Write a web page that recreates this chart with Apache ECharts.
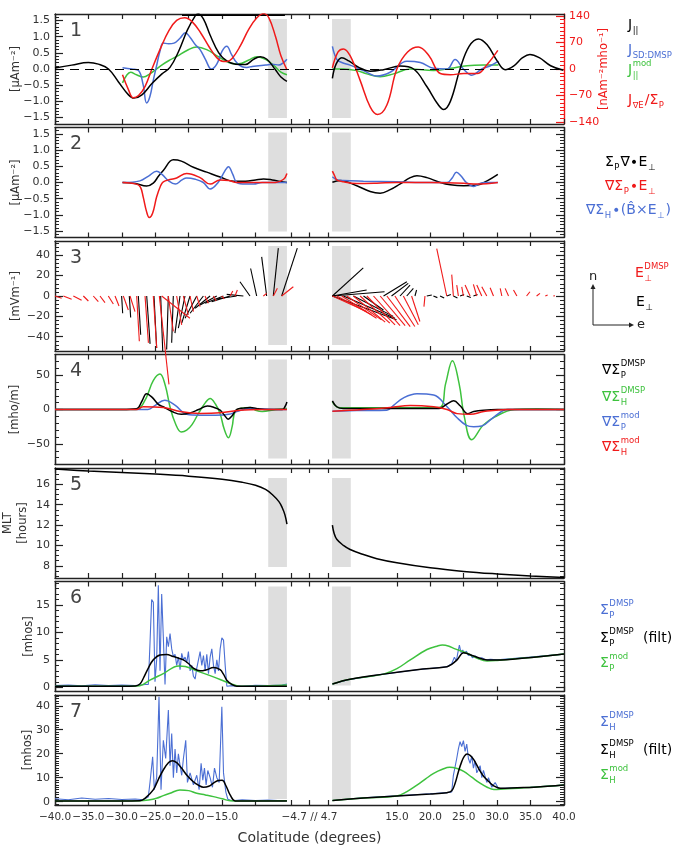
<!DOCTYPE html>
<html>
<head>
<meta charset="utf-8">
<script src="https://cdn.jsdelivr.net/npm/echarts@6.0.0/dist/echarts.min.js"></script>
<style>
  html, body { margin: 0; background: #fff; }
  #chart { width: 681px; height: 852px; }
</style>
</head>
<body>
<div id="chart"></div>
<script>
// ---- broken colatitude axis: -40..-4.7 // 4.7..40
const SHIFT = 3.85;
const U = x => (x < 0 ? x : x - SHIFT);
const MID = (U(-4.7) + U(4.7)) / 2;
const EAST_SCALE = 0.153;   // deg of colatitude drawn per mV/m of east component

const xTickVals = [-40, -35, -30, -25, -20, -15, -10, -4.7, 4.7, 15, 20, 25, 30, 35, 40];
const xLabelVals = [-40, -35, -30, -25, -20, -15, 15, 20, 25, 30, 35, 40];
const grayBars = [[-8.1, -5.3], [5.3, 8.1]];

// ---- panel 1: currents (red on right axis, nA m^-2 mho^-1)
const p1BlackLX = [-40, -37.5, -35, -33.5, -32, -30.5, -29, -28.2, -27, -25.5, -24, -22.8, -21.5, -20.2, -19, -18.6, -17.8, -16.8, -15.5, -14.3, -13, -11.5, -10.3, -9.3, -8.3, -7.1, -6.2, -5.3];
const p1BlackLY = [0.03, 0.12, 0.2, 0.15, 0.0, -0.4, -0.8, -0.9, -0.8, -0.45, -0.15, 0.05, 0.55, 1.2, 1.65, 1.7, 1.55, 1.05, 0.5, 0.25, 0.15, 0.14, 0.3, 0.38, 0.3, 0.0, -0.25, -0.38];
const p1BlackRX = [5.35, 5.9, 6.75, 7.8, 9.3, 11, 13, 15.5, 17.5, 19.5, 21, 22, 23, 24.45, 25.8, 27.2, 28.5, 30, 31.2, 32.5, 33.8, 34.9, 36.3, 38, 39.9];
const p1BlackRY = [-0.29, 0.15, 0.35, 0.25, 0.05, -0.07, -0.02, 0.09, 0.0, -0.55, -1.05, -1.25, -1.0, 0.0, 0.7, 0.93, 0.75, 0.25, -0.02, 0.1, 0.35, 0.45, 0.35, 0.1, -0.04];
const p1BarX = [-21, -5.6];
const p1BarY = [1.66, 1.66];
const p1BlueLX = [-29.9, -28.5, -27.5, -26.8, -26.3, -25.8, -25.3, -24.8, -24.3, -23.8, -23, -22.2, -21.3, -20.5, -19.8, -19, -18.3, -17.5, -16.6, -15.8, -15, -14.3, -13.6, -12.8, -12, -11.3, -10.5, -9.5, -8.5, -7.5, -6.5, -5.8, -5.3];
const p1BlueLY = [0.04, 0.0, -0.05, -0.5, -1.05, -0.85, -0.35, 0.1, 0.55, 0.8, 0.78, 0.8, 0.95, 1.12, 0.98, 0.75, 0.6, 0.3, 0.0, 0.15, 0.55, 0.7, 0.45, 0.19, 0.07, 0.05, 0.08, 0.1, 0.12, 0.15, 0.12, 0.2, 0.3];
const p1BlueRX = [5.35, 6, 6.75, 8, 10, 12, 14, 16.5, 18.5, 20.5, 22.5, 23.7, 24.95, 26.2, 27.7, 29, 30.2];
const p1BlueRY = [0.7, 0.3, 0.2, 0.12, -0.05, -0.22, -0.1, 0.24, 0.2, 0.02, 0.0, 0.29, 0.0, -0.19, 0.0, 0.1, 0.24];
const p1GreenLX = [-29.9, -29.3, -28.7, -27.8, -26.8, -25.8, -24.2, -22.8, -21.7, -20.2, -18.8, -17.3, -15.7, -14.5, -13.7, -12.5, -11, -9.8, -8.5, -7.2, -6.2, -5.3];
const p1GreenLY = [-0.43, -0.2, -0.1, -0.18, -0.25, -0.15, 0.1, 0.28, 0.4, 0.58, 0.68, 0.6, 0.4, 0.25, 0.18, 0.16, 0.28, 0.38, 0.3, 0.1, -0.1, -0.18];
const p1GreenRX = [5.35, 7, 9, 10.5, 12.5, 14.5, 17, 20.5, 23, 25.5, 28, 30.2];
const p1GreenRY = [0.0, 0.0, -0.05, -0.15, -0.24, -0.15, 0.0, -0.05, 0.02, 0.1, 0.12, 0.12];
const p1RedLX = [-29.9, -29, -28.3, -27.5, -26.5, -25.5, -24.2, -23, -21.8, -20.6, -19.5, -18.2, -17, -15.8, -14.8, -14.3, -13.5, -12.3, -11, -9.8, -8.8, -8, -7, -6.2, -5.3];
const p1RedLY = [-15, -55, -76, -70, -45, 0, 55, 100, 128, 135, 125, 95, 60, 30, 20, 20, 28, 60, 105, 135, 146, 135, 85, 35, -2];
const p1RedRX = [5.35, 6.2, 7.0, 8, 9.5, 11, 12.1, 13.5, 15, 16.6, 18.2, 19.8, 21.5, 23, 25, 27, 28.5, 30.1];
const p1RedRY = [3, 45, 53, 35, -30, -100, -120, -95, 0, 45, 58, 35, -12, -15, -12, -12, 12, 49];

// ---- panel 2: current terms
const p2BlackLX = [-29.9, -28, -26.3, -25.3, -24.5, -23.8, -22.3, -21.1, -19.3, -17.3, -15.3, -13.3, -11.5, -10, -8.8, -7.5, -6.3, -5.3];
const p2BlackLY = [0, -0.03, -0.11, -0.02, 0.2, 0.37, 0.7, 0.66, 0.47, 0.32, 0.17, 0.04, 0.04, 0.08, 0.11, 0.08, 0.03, 0.0];
const p2BlackRX = [5.35, 6.5, 9, 11, 12.5, 14, 15.5, 17, 18, 19.5, 21.5, 23, 25, 27, 28.5, 30.1];
const p2BlackRY = [0.01, 0.06, -0.1, -0.28, -0.33, -0.22, -0.04, 0.15, 0.21, 0.15, 0.0, -0.07, -0.1, -0.08, 0.05, 0.25];
const p2RedLX = [-29.9, -27.8, -27.2, -26.8, -26.3, -25.9, -25.4, -24.8, -24.2, -23.8, -22.8, -21.8, -20.3, -18.3, -16.8, -15.3, -14, -12.8, -10, -7, -5.8, -5.3];
const p2RedLY = [0, -0.05, -0.15, -0.45, -0.9, -1.08, -0.95, -0.45, -0.1, 0.02, 0.09, 0.14, 0.28, 0.15, -0.05, 0.08, 0.06, 0.0, 0.0, 0.0, 0.1, 0.28];
const p2RedRX = [5.35, 5.7, 6.0, 7, 9, 12, 15, 20, 25, 27, 30.1];
const p2RedRY = [0.35, 0.2, 0.08, 0.02, -0.03, -0.02, 0, 0, -0.02, -0.05, 0];
const p2BlueLX = [-29.9, -27.3, -26, -24.8, -24, -23, -22, -21, -20.3, -19, -17.8, -16.8, -15.6, -14.6, -14.05, -13.4, -12.8, -11.5, -10.3, -9, -7, -5.3];
const p2BlueLY = [0, 0.05, 0.2, 0.35, 0.25, 0.05, -0.05, 0.08, 0.14, 0.1, 0.0, -0.2, 0.0, 0.35, 0.49, 0.25, 0.0, -0.05, -0.05, 0.0, 0.0, 0.0];
const p2BlueRX = [5.35, 6, 7, 10, 15, 20, 22.5, 23.3, 23.9, 24.6, 25.4, 26.5, 27.5, 28.5, 30.1];
const p2BlueRY = [0.18, 0.09, 0.06, 0.04, 0.02, 0, 0, 0.15, 0.32, 0.2, 0.0, -0.12, -0.02, 0.0, 0.0];

// ---- panel 3: electric field sticks (base colatitude, east mV/m, north mV/m)
const p3BlackX = [-30.03, -28.88, -27.53, -26.28, -25.19, -24.19, -23.05, -22.3, -21.3, -20.55, -19.8, -18.8, -17.8, -16.8, -15.8, -14.8, -13.82, -12.82, -11.82, -10.83, -9.83, -8.33, -7.34, -6.09,
  5.35, 5.35, 5.35, 5.35, 7.0, 8.5, 10.0, 13.0, 14.2, 15.47, 16.47, 17.7, 19.47, 20.46, 21.46, 22.46, 23.45, 24.45, 25.45, 26.45];
const p3BlackE = [1.0, 1.3, 2.3, 3.3, 2.6, 2.0, -1.6, -1.6, -4.9, -6.5, -8.1, -11.4, -13, -14.6, -16.3, -17.9, -17.9, -19.5, -16.3, -9.8, -5.9, -4.9, 4.9, 15.3,
  30.2, 33.5, 51, 62.7, 50.4, 39, 19.5, 22.8, 16.3, 9.8, 6.5, 1.6, 4.9, 3.9, 4, 4, 4, 4, 4, 4];
const p3BlackN = [-16.9, -21.1, -38, -47, -51, -54, -52.6, -46, -36.4, -31.5, -26.7, -21.8, -16.9, -12, -8.8, -7.2, -5.5, -2.9, 1.6, 14, 27, 38.4, 47, 47,
  27.6, 5.9, 4.2, -23.4, -21.8, -20, -13.7, 14, 12.4, 10.7, 7.5, 5.9, 1, -1.6, -2, 1.5, -2, 1.5, -1.5, 1.5];
const p3RedX = [-40.0, -38.75, -37.26, -35.76, -34.27, -33.27, -32.02, -31.02, -29.78, -28.78, -27.78, -26.53, -25.29, -24.39, -24.04, -23.05, -21.8, -20.8, -19.8, -18.8, -17.56, -16.3, -15.06, -13.8, -13.07, -8.83, -7.33, -6.09,
  5.35, 6.0, 6.75, 7.5, 8.5, 9.5, 10.5, 11.5, 12.5, 13.5, 14.7, 15.97, 17.2, 19.2, 22.46, 23.45, 24.2, 24.95, 25.95, 26.95, 27.7, 28.45, 29.45, 30.7, 31.7, 32.95, 34.4, 35.9, 37.2, 38.4];
const p3RedE = [6.5, 8.1, 8.1, 4.9, 4.9, 4.9, 4.9, 3.9, 4.9, 4.9, 2.6, 3.3, 3.3, 9.4, 27.6, 4.9, 4.9, 4.9, 3.3, 3.3, 3.3, 2.6, 2.3, 2.6, 2.3, 3.3, 3.9, 11.4,
  33.5, 34, 34, 34, 31, 29, 27.6, 26, 24.4, 22.8, 19.5, 14.6, 8.1, -1, -9.8, -1.6, -1.6, -1.6, -4.9, -3.3, -4.9, -4.9, -3.3, -1.6, -3.3, -3.3, 3.3, 3.3, 2.3, 1.6];
const p3RedN = [-2.3, -3.3, -4.2, -4.9, -5.5, -6.5, -7.8, -9.8, -13.7, -15.3, -44.5, -46, -51, -86.8, -21.8, -34.8, -28.3, -18.5, -15.3, -10.4, -7.2, -4.9, -2.9, 4.9, 5.9, 2.6, 7.5, 9.1,
  -15.3, -18.5, -21.8, -23.4, -25.7, -26.7, -28.3, -29, -29, -30, -30, -28.3, -25, -10.4, 46.5, 21, 10.7, 9, 10.7, 11.4, 10.7, 9, 8.1, 7.5, 7.5, 5.9, 4.2, 2.6, 1, 0.3];

// ---- panel 4: conductance gradients
const p4BlackLX = [-40, -35, -30, -27.8, -27, -26.3, -25.5, -24.5, -23.8, -22.5, -21.1, -19.8, -18.5, -17.2, -16.2, -15.3, -14.6, -14.1, -13.5, -12.8, -11.8, -10.8, -9.5, -8, -6, -5.6, -5.3];
const p4BlackLY = [0, 0, 0, 1, 12, 23, 18, 7, 4, -3, -7, -5, 0, 5, 3, -1, -9, -14, -9, 0, 2, 3, 1, 0, 0, 4, 11];
const p4BlackRX = [5.35, 6.0, 7, 10, 15, 20, 21.3, 22.5, 23.5, 24.5, 25.6, 26.5, 28, 30, 35, 40];
const p4BlackRY = [12.6, 4, 1.5, 1.5, 1.5, 1.5, 1.5, 8, 12.6, 5, -6, -3, -1, 0, 0, 0];
const p4GreenLX = [-40, -30, -28, -27.3, -26.3, -25.3, -24.3, -23.5, -22.8, -22, -21.1, -20.3, -19.5, -18.5, -17.5, -16.8, -16, -15.3, -14.7, -14.05, -13.5, -13.05, -12, -10.8, -10, -9, -7, -5.3];
const p4GreenLY = [0, 0, 0, 2, 18, 42, 51.5, 35, 4, -20, -32.6, -30, -22, -5, 10, 16, 8, -6, -28, -41, -25, -3, 2, 3, -1, -3, 0, 1.5];
const p4GreenRX = [5.35, 6.2, 7, 10, 15, 21.3, 22.3, 23.3, 24.3, 25.1, 26.2, 27.9, 29.6, 32.6, 36, 40];
const p4GreenRY = [11, 3, 2.5, 2.5, 2.5, 3, 38, 71, 38, -11, -44, -23, -11, 0, 1, 0];
const p4BlueLX = [-40, -30, -26.1, -25, -23.6, -22, -20.3, -18.3, -16, -14, -12.8, -11, -8, -5.3];
const p4BlueLY = [0, 0, 0, 6, 13.6, 6, -7, -8.3, -8.3, -7, -3, 1.5, 0.5, 0];
const p4BlueRX = [5.35, 9, 13.5, 14.5, 16, 18, 20.5, 22.5, 24, 25.4, 26.5, 27.7, 29.5, 31.6, 36, 40];
const p4BlueRY = [-2.4, -1.5, -1, 6, 17, 23, 21, 4, -12, -23, -25, -24, -11, 0, 0, 0];
const p4RedLX = [-40, -30, -27.8, -26.8, -23.8, -21.3, -18.3, -15.3, -12.3, -9, -5.3];
const p4RedLY = [0, 0, 0, 4, 3, -3, -5.8, -4.9, -1, 0, 0];
const p4RedRX = [5.35, 10, 14, 17, 20.5, 22.5, 24, 26, 28, 31.6, 36, 40];
const p4RedRY = [-2.4, 0, 3, 6, 4, 0, -6, -7, -3, 0, 0, 0];

// ---- panel 5: MLT
const p5LX = [-40, -35, -30, -25, -20, -15, -12, -10, -8.5, -7.5, -6.5, -6, -5.6, -5.3];
const p5LY = [17.5, 17.3, 17.15, 17.0, 16.8, 16.5, 16.2, 15.9, 15.5, 15.0, 14.3, 13.7, 13.0, 12.1];
const p5RX = [5.35, 5.6, 6, 7, 8, 10, 12, 15, 20, 25, 30, 35, 40];
const p5RY = [12, 11.2, 10.6, 10.0, 9.6, 9.1, 8.7, 8.3, 7.8, 7.45, 7.2, 7.0, 6.85];

// ---- panel 6: Pedersen conductance
const p6BlueLX = [-40, -38, -36, -34, -32, -30, -28, -26.5,
  -26.04, -25.79, -25.54, -25.29, -25.04, -24.79, -24.54, -24.29, -24.04, -23.79, -23.54, -23.29, -23.04, -22.79, -22.54, -22.29,
  -22.04, -21.79, -21.54, -21.29, -21.04, -20.79, -20.54, -20.29, -20.04, -19.79, -19.54, -19.29, -19.04, -18.79, -18.54, -18.29,
  -18.04, -17.79, -17.54, -17.29, -17.04, -16.79, -16.54, -16.29, -16.04, -15.79, -15.54, -15.29, -15.04, -14.79, -14.54, -14.29,
  -13.5, -12, -10, -8, -6, -5.3];
const p6BlueLY = [0.3, 0.4, 0.25, 0.45, 0.3, 0.4, 0.3, 0.5,
  0.5, 8, 16, 15.5, 1, 5, 18.6, 3, 17, 9, 0.5, 9.2, 7.4, 9.8, 7, 5.6,
  6, 4, 5.5, 3.2, 6.2, 5, 5.5, 4.5, 6.5, 3, 4, 2, 1.5, 3.5, 5, 6.5,
  4, 5.8, 3, 6, 2.5, 5.5, 7, 4, 2.5, 5, 3, 7, 9, 8.6, 4, 0.2,
  0.3, 0.2, 0.35, 0.3, 0.4, 0.6];
const p6BlueRX = [5.35, 8, 13, 18, 22.5, 23.2, 23.6, 23.9, 24.1, 24.35, 24.6, 24.85, 25.1, 25.4, 25.7, 26, 26.3, 26.7, 27.2, 27.7, 28.3, 29, 30, 35, 40];
const p6BlueRY = [0.6, 1.45, 2.4, 3.2, 3.75, 4.3, 5.5, 4.8, 6.2, 7.7, 6.3, 6.8, 6.2, 6.6, 5.8, 6.0, 5.4, 5.7, 5.2, 5.4, 5.0, 5.1, 5.0, 5.5, 6.05];
const p6BlackLX = [-40, -30, -28, -27.3, -26.8, -26, -25.3, -24.3, -23.3, -22.3, -21.5, -20.8, -20, -19.3, -18.3, -17.3, -16.3, -15.3, -14.8, -14.3, -13.5, -12.8, -5.3];
const p6BlackLY = [0.2, 0.2, 0.25, 0.6, 1.6, 3.6, 5.0, 5.9, 6.0, 5.6, 5.3, 5.0, 4.3, 3.5, 3.0, 3.2, 3.6, 3.2, 2.4, 1.3, 0.5, 0.2, 0.2];
const p6BlackRX = [5.35, 8, 13, 18, 22.5, 23.2, 24, 25, 26.5, 28.5, 30.5, 33, 35.5, 40];
const p6BlackRY = [0.6, 1.45, 2.4, 3.2, 3.75, 4.2, 5.0, 6.3, 5.7, 5.0, 5.0, 5.2, 5.5, 6.05];
const p6GreenLX = [-40, -30, -27.3, -25.8, -23.8, -21.5, -20.5, -18.8, -16.3, -13.8, -12.3, -10, -5.3];
const p6GreenLY = [0.2, 0.2, 0.3, 1.3, 2.5, 3.9, 3.8, 3.0, 1.9, 0.7, 0.2, 0.2, 0.4];
const p6GreenRX = [5.35, 8, 13, 15, 17, 19.5, 21, 21.8, 22.8, 23.5, 25.5, 27, 28.5, 30, 35.5, 40];
const p6GreenRY = [0.6, 1.45, 2.4, 3.4, 5.0, 6.9, 7.5, 7.7, 7.5, 7.1, 6.2, 5.3, 4.8, 4.9, 5.5, 6.05];

// ---- panel 7: Hall conductance
const p7BlueLX = [-40, -38, -36, -34, -32, -30, -28, -26.8, -26.04, -25.79, -25.39, -25.14, -24.79, -24.44, -24.14, -23.79, -23.44, -23.04, -22.79, -22.54, -22.29, -22.04, -21.79, -21.54, -21.29, -21.04, -20.79, -20.44, -20.19, -19.79, -19.29, -18.79, -18.44, -18.14, -17.89, -17.64, -17.39, -17.14, -16.79, -16.44, -16.14, -15.79, -15.44, -15.04, -14.79, -14.44, -14.14, -13.5, -12, -10, -8, -6, -5.3];
const p7BlueLY = [1.2, 0.8, 1.5, 1.0, 1.3, 0.9, 1.1, 0.8, 2, 8, 18.75, 5, 10, 43.8, 5, 25.6, 18, 38.2, 15, 28.4, 10, 22, 12, 20, 15, 11, 18, 25.6, 8, 12, 7, 11, 5, 16, 9, 14, 7, 13, 10, 6, 14, 10, 8, 39.6, 12, 4, 1, 0.4, 0.8, 0.5, 0.7, 0.4, 0.5];
const p7BlueRX = [5.35, 10, 15, 20, 22.5, 23.2, 23.45, 23.95, 24.2, 24.45, 24.7, 24.95, 25.2, 25.45, 25.7, 25.95, 26.2, 26.45, 26.7, 26.95, 27.45, 27.7, 27.95, 28.45, 28.7, 29.2, 29.7, 30.2, 32, 35, 40];
const p7BlueRY = [0.5, 1.6, 2.4, 3.3, 3.75, 4, 11, 18, 22, 25, 23, 25.5, 21, 24, 18, 16, 19, 14, 17, 12, 15, 10, 13, 8, 10, 6, 8, 5.5, 5.7, 6, 6.9];
const p7BlackLX = [-40, -30, -27.3, -26.5, -25.3, -24.5, -23.8, -23.0, -22.45, -21.8, -21.05, -20.2, -19.3, -18.5, -17.8, -17.0, -16.2, -15.56, -15.0, -14.4, -13.8, -13.05, -12, -5.3];
const p7BlackLY = [0.3, 0.3, 0.4, 1.5, 4.9, 9.5, 13.2, 16.3, 17.1, 16.3, 13.9, 10.8, 8.3, 6.8, 6.0, 6.4, 7.9, 8.8, 8.9, 6.5, 2.8, 0.3, 0.3, 0.3];
const p7BlackRX = [5.35, 10, 15, 20, 22.5, 23.2, 23.7, 24.2, 24.7, 25.1, 25.5, 26, 26.5, 27, 27.5, 28, 28.7, 29.5, 30.5, 33, 35.5, 40];
const p7BlackRY = [0.5, 1.5, 2.4, 3.2, 3.75, 4.5, 7.6, 12.5, 16.7, 19, 19.9, 19.2, 17.5, 15, 12.5, 10.5, 8.5, 6.6, 5.6, 5.8, 6, 6.9];
const p7GreenLX = [-40, -30, -27.3, -26, -24.8, -23.8, -22.8, -21.3, -20, -18.8, -17.5, -16.3, -15, -13.8, -12, -5.3];
const p7GreenLY = [0.3, 0.3, 0.35, 0.7, 1.4, 2.5, 3.5, 4.9, 4.6, 3.5, 2.8, 2.1, 1.2, 0.4, 0.3, 0.4];
const p7GreenRX = [5.35, 10, 15, 16.5, 18, 19.3, 20.5, 21.8, 22.9, 24, 25, 26.2, 27.5, 28.5, 29.5, 31, 35.5, 40];
const p7GreenRY = [0.5, 1.5, 2.4, 4.2, 6.9, 9.5, 11.8, 13.5, 14.3, 13.8, 12.6, 10.2, 7.6, 6, 5.1, 5.3, 6, 6.9];

// ---- axes per panel
const yMins = [-1.7, -1.7, -54, -80, 6.8, -0.77, -1.4];
const yMaxs = [1.7, 1.7, 54, 80, 17.6, 19.3, 44.5];
const yMajors = [[-1.5, -1, -0.5, 0, 0.5, 1, 1.5], [-1.5, -1, -0.5, 0, 0.5, 1, 1.5], [-40, -20, 0, 20, 40], [-50, 0, 50], [8, 10, 12, 14, 16], [0, 5, 10, 15], [0, 10, 20, 30, 40]];
const yMinorStep = [0.1, 0.1, 4, 10, 0.5, 1, 1];
const yDecimals = [1, 1, 0, 0, 0, 0, 0];
const yNames = ['[μAm⁻²]', '[μAm⁻²]', '[mVm⁻¹]', '[mho/m]', 'MLT\n[hours]', '[mhos]', '[mhos]'];
const yNameGaps = [31, 31, 31, 32, 24, 18, 19];
const redAxisMajors = [-140, -70, 0, 70, 140];

const PANEL_TOP = [14, 127.5, 241, 354.5, 468, 581.5, 695];
const PANEL_H = 110;
const GRID_LEFT = 55, GRID_W = 509;

const BLACK = '#000', RED = '#f01a1a', BLUE = '#4b6fd4', GREEN = '#3ec23e';
const FONT = '"DejaVu Sans", sans-serif';
const TXT = '#333';

const fmtNum = (v, d) => v.toFixed(d).replace('-', '−');
function minorTicks(min, max, step, majors) {
  const out = [];
  for (let k = Math.ceil(min / step - 1e-9); k * step <= max + 1e-9; k++) {
    const v = +(k * step).toFixed(6);
    if (!majors.some(m => Math.abs(m - v) < 1e-6)) out.push(v);
  }
  return out;
}

const grids = [], xAxes = [], yAxes = [], series = [];
const axisLine = (color) => ({ show: true, onZero: false, lineStyle: { color: color || '#222', width: 1.4 } });

for (let g = 0; g < 7; g++) {
  grids.push({ left: GRID_LEFT, width: GRID_W, top: PANEL_TOP[g], height: PANEL_H, containLabel: false, outerBoundsMode: 'none' });
  const isLast = g === 6;
  const xBase = {
    type: 'value', gridIndex: g, min: -40, max: U(40), splitLine: { show: false },
    axisLine: axisLine(),
    axisTick: { inside: true, length: 5, customValues: xTickVals.map(U).concat([MID]), lineStyle: { color: '#222', width: 1.2 } }
  };
  xAxes.push(Object.assign({}, xBase, {
    position: 'bottom',
    axisLabel: isLast ? {
      customValues: xLabelVals.map(U).concat([MID]), margin: 7, color: TXT, fontSize: 10.5, fontFamily: FONT,
      showMinLabel: true, showMaxLabel: true, hideOverlap: false,
      formatter: v => Math.abs(v - MID) < 0.01 ? '−4.7 // 4.7' : fmtNum(v < MID ? v : v + SHIFT, 1)
    } : { show: false },
    name: isLast ? 'Colatitude (degrees)' : '', nameLocation: 'middle', nameGap: 26, nameMoveOverlap: false,
    nameTextStyle: { color: TXT, fontSize: 14, fontFamily: FONT }
  }));
  xAxes.push(Object.assign({}, xBase, { position: 'top', axisLabel: { show: false } }));

  const majors = yMajors[g];
  const minors = minorTicks(yMins[g], yMaxs[g], yMinorStep[g], majors);
  const yBase = { type: 'value', gridIndex: g, min: yMins[g], max: yMaxs[g], splitLine: { show: false } };
  yAxes.push(Object.assign({}, yBase, {
    position: 'left', axisLine: axisLine(),
    axisTick: { inside: true, length: 8, customValues: majors, lineStyle: { color: '#222', width: 1.2 } },
    axisLabel: { customValues: majors, margin: 5, color: TXT, fontSize: 11, fontFamily: FONT, showMinLabel: true, showMaxLabel: true, formatter: v => fmtNum(v, yDecimals[g]) },
    name: yNames[g], nameLocation: 'middle', nameGap: yNameGaps[g], nameRotate: 90, nameMoveOverlap: false,
    nameTextStyle: { color: TXT, fontSize: 11.5, fontFamily: FONT, lineHeight: 15 }
  }));
  yAxes.push(Object.assign({}, yBase, {
    position: 'left', axisLine: { show: false, onZero: false }, axisLabel: { show: false },
    axisTick: { inside: true, length: 4, customValues: minors, lineStyle: { color: '#222', width: 1 } }
  }));
  if (g === 0) {
    const rMinors = minorTicks(-145, 145, 10, redAxisMajors);
    yAxes.push({
      type: 'value', gridIndex: g, min: -145, max: 145, position: 'right', splitLine: { show: false },
      axisLine: axisLine(RED),
      axisTick: { inside: true, length: 8, customValues: redAxisMajors, lineStyle: { color: RED, width: 1.2 } },
      axisLabel: { customValues: redAxisMajors, margin: 5, color: RED, fontSize: 11, fontFamily: FONT, showMinLabel: true, showMaxLabel: true, formatter: v => fmtNum(v, 0) },
      name: '[nAm⁻²mho⁻¹]', nameLocation: 'middle', nameGap: 34, nameRotate: 90, nameMoveOverlap: false,
      nameTextStyle: { color: RED, fontSize: 11.5, fontFamily: FONT }
    });
    yAxes.push({
      type: 'value', gridIndex: g, min: -145, max: 145, position: 'right', splitLine: { show: false },
      axisLine: { show: false, onZero: false }, axisLabel: { show: false },
      axisTick: { inside: true, length: 4, customValues: rMinors, lineStyle: { color: RED, width: 1 } }
    });
  } else {
    yAxes.push(Object.assign({}, yBase, {
      position: 'right', axisLine: axisLine(), axisLabel: { show: false },
      axisTick: { inside: true, length: 8, customValues: majors, lineStyle: { color: '#222', width: 1.2 } }
    }));
    yAxes.push(Object.assign({}, yBase, {
      position: 'right', axisLine: { show: false, onZero: false }, axisLabel: { show: false },
      axisTick: { inside: true, length: 4, customValues: minors, lineStyle: { color: '#222', width: 1 } }
    }));
  }

  // grey data-gap bands
  const span = yMaxs[g] - yMins[g];
  const lo = yMins[g] + span * (g === 4 ? 0.1 : 0.055), hi = yMaxs[g] - span * (g === 4 ? 0.09 : 0.045);
  const bg = {
    type: 'line', xAxisIndex: 2 * g, yAxisIndex: 4 * g, data: [], z: 1, silent: true,
    markArea: {
      silent: true, itemStyle: { color: '#dedede' },
      data: grayBars.map(b => [{ xAxis: U(b[0]), yAxis: lo }, { xAxis: U(b[1]), yAxis: hi }])
    }
  };
  if (g === 0) {
    bg.markLine = {
      silent: true, symbol: ['none', 'none'], label: { show: false },
      lineStyle: { color: '#000', type: [9, 6], width: 1.2 }, data: [{ yAxis: 0 }]
    };
  }
  series.push(bg);
}

function line(g, xs, ys, color, opt) {
  opt = opt || {};
  return {
    type: 'line', xAxisIndex: 2 * g, yAxisIndex: 4 * g + (opt.right ? 2 : 0),
    data: xs.map((x, i) => [U(x), ys[i]]), symbol: 'none', silent: true, z: 3,
    smooth: opt.smooth === undefined ? 0.4 : opt.smooth,
    lineStyle: { color: color, width: opt.width || 1.5 }
  };
}
function sticks(g, xs, es, ns, color) {
  return {
    type: 'lines', coordinateSystem: 'cartesian2d', xAxisIndex: 2 * g, yAxisIndex: 4 * g,
    clip: false, silent: true, z: 4,
    data: xs.map((x, i) => ({ coords: [[U(x), 0], [U(x) + es[i] * EAST_SCALE, ns[i]]] })),
    lineStyle: { color: color, width: 1.1, opacity: 1 }
  };
}

series.push(
  line(0, p1BarX, p1BarY, BLACK, { smooth: false }),
  line(0, p1GreenLX, p1GreenLY, GREEN), line(0, p1GreenRX, p1GreenRY, GREEN),
  line(0, p1BlueLX, p1BlueLY, BLUE), line(0, p1BlueRX, p1BlueRY, BLUE),
  line(0, p1BlackLX, p1BlackLY, BLACK), line(0, p1BlackRX, p1BlackRY, BLACK),
  line(0, p1RedLX, p1RedLY, RED, { right: true }), line(0, p1RedRX, p1RedRY, RED, { right: true }),

  line(1, p2BlackLX, p2BlackLY, BLACK), line(1, p2BlackRX, p2BlackRY, BLACK),
  line(1, p2BlueLX, p2BlueLY, BLUE), line(1, p2BlueRX, p2BlueRY, BLUE),
  line(1, p2RedLX, p2RedLY, RED), line(1, p2RedRX, p2RedRY, RED),

  sticks(2, p3BlackX, p3BlackE, p3BlackN, BLACK),
  sticks(2, p3RedX, p3RedE, p3RedN, RED),

  line(3, p4GreenLX, p4GreenLY, GREEN), line(3, p4GreenRX, p4GreenRY, GREEN),
  line(3, p4BlueLX, p4BlueLY, BLUE), line(3, p4BlueRX, p4BlueRY, BLUE),
  line(3, p4BlackLX, p4BlackLY, BLACK), line(3, p4BlackRX, p4BlackRY, BLACK),
  line(3, p4RedLX, p4RedLY, RED), line(3, p4RedRX, p4RedRY, RED),

  line(4, p5LX, p5LY, BLACK), line(4, p5RX, p5RY, BLACK),

  line(5, p6BlueLX, p6BlueLY, BLUE, { smooth: false, width: 1.1 }), line(5, p6BlueRX, p6BlueRY, BLUE, { smooth: false, width: 1.1 }),
  line(5, p6GreenLX, p6GreenLY, GREEN), line(5, p6GreenRX, p6GreenRY, GREEN),
  line(5, p6BlackLX, p6BlackLY, BLACK), line(5, p6BlackRX, p6BlackRY, BLACK),

  line(6, p7BlueLX, p7BlueLY, BLUE, { smooth: false, width: 1.1 }), line(6, p7BlueRX, p7BlueRY, BLUE, { smooth: false, width: 1.1 }),
  line(6, p7GreenLX, p7GreenLY, GREEN), line(6, p7GreenRX, p7GreenRY, GREEN),
  line(6, p7BlackLX, p7BlackLY, BLACK), line(6, p7BlackRX, p7BlackRY, BLACK)
);

// ---- text with sub/superscripts as graphic elements
const mctx = document.createElement('canvas').getContext('2d');
function textW(s, size) { mctx.font = size + 'px ' + FONT; return mctx.measureText(s).width; }
function txt(x, y, s, size, color) {
  return { type: 'text', x: x, y: y, silent: true, z: 50,
    style: { text: s, fill: color, fontSize: size, fontFamily: FONT, align: 'left', verticalAlign: 'middle' } };
}
// tokens: [base, sub, sup]
function formula(x, y, color, tokens, size) {
  size = size || 14;
  const small = 8.5;
  const out = [];
  let cx = x;
  tokens.forEach(tk => {
    const base = tk[0], sub = tk[1], sup = tk[2];
    if (base) { out.push(txt(cx, y, base, size, color)); cx += textW(base, size); }
    let w = 0;
    if (sup) { out.push(txt(cx + 0.5, y - 6, sup, small, color)); w = Math.max(w, textW(sup, small)); }
    if (sub) { out.push(txt(cx + 0.5, y + 5.5, sub, small, color)); w = Math.max(w, textW(sub, small)); }
    if (w) cx += w + 1.5;
  });
  return out;
}

let graphics = [];
['1', '2', '3', '4', '5', '6', '7'].forEach((n, g) => graphics.push(txt(70, PANEL_TOP[g] + 17, n, 19, '#444')));
graphics = graphics.concat(
  formula(628, 25, BLACK, [['J', '||']]),
  formula(628, 50, BLUE, [['J', 'SD:DMSP']]),
  formula(628, 70, GREEN, [['J', '||', 'mod']]),
  formula(628, 100, RED, [['J', '∇E'], ['/Σ', 'P']]),

  formula(605, 162, BLACK, [['Σ', 'P'], ['∇∙E', '⊥']]),
  formula(605, 186, RED, [['∇Σ', 'P'], ['∙E', '⊥']]),
  formula(586, 210, BLUE, [['∇Σ', 'H'], ['∙(B̂×E', '⊥'], [')']]),

  formula(635, 273, RED, [['E', '⊥', 'DMSP']]),
  formula(636, 302, BLACK, [['E', '⊥']]),

  formula(602, 370, BLACK, [['∇Σ', 'P', 'DMSP']]),
  formula(602, 397, GREEN, [['∇Σ', 'H', 'DMSP']]),
  formula(602, 422, BLUE, [['∇Σ', 'P', 'mod']]),
  formula(602, 447, RED, [['∇Σ', 'H', 'mod']]),

  formula(600, 610, BLUE, [['Σ', 'P', 'DMSP']]),
  formula(600, 638, BLACK, [['Σ', 'P', 'DMSP']]),
  [txt(643, 638, '(filt)', 14, BLACK)],
  formula(600, 663, GREEN, [['Σ', 'P', 'mod']]),

  formula(600, 722, BLUE, [['Σ', 'H', 'DMSP']]),
  formula(600, 750, BLACK, [['Σ', 'H', 'DMSP']]),
  [txt(643, 750, '(filt)', 14, BLACK)],
  formula(600, 775, GREEN, [['Σ', 'H', 'mod']])
);
// n / e direction key for panel 3
graphics.push(
  { type: 'line', silent: true, shape: { x1: 593, y1: 325, x2: 593, y2: 286 }, style: { stroke: '#222', lineWidth: 1 } },
  { type: 'line', silent: true, shape: { x1: 593, y1: 325, x2: 632, y2: 325 }, style: { stroke: '#222', lineWidth: 1 } },
  { type: 'polygon', silent: true, shape: { points: [[593, 284], [590.5, 289], [595.5, 289]] }, style: { fill: '#222' } },
  { type: 'polygon', silent: true, shape: { points: [[634, 325], [629, 322.5], [629, 327.5]] }, style: { fill: '#222' } },
  { type: 'text', silent: true, x: 593, y: 277, style: { text: 'n', fill: '#222', fontSize: 13, fontFamily: FONT, align: 'center', verticalAlign: 'middle' } },
  { type: 'text', silent: true, x: 641, y: 325, style: { text: 'e', fill: '#222', fontSize: 13, fontFamily: FONT, align: 'center', verticalAlign: 'middle' } }
);

const chart = echarts.init(document.getElementById('chart'), null, { renderer: 'canvas' });
chart.setOption({
  animation: false,
  backgroundColor: '#fff',
  grid: grids,
  xAxis: xAxes,
  yAxis: yAxes,
  series: series,
  graphic: graphics
});
</script>
</body>
</html>
